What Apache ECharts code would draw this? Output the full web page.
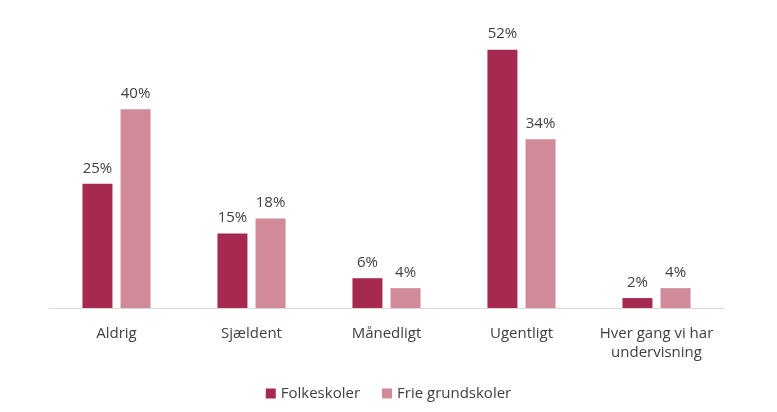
<!DOCTYPE html>
<html><head><meta charset="utf-8">
<script src="https://cdn.jsdelivr.net/npm/echarts@6/dist/echarts.min.js"></script>
<style>html,body{margin:0;padding:0;background:#fff}#c{width:777px;height:412px}</style>
</head><body><div id="c"></div>
<script>
var categories = ["Aldrig", "Sjældent", "Månedligt", "Ugentligt", "Hver gang vi har\nundervisning"];
var folkeskoler = [25, 15, 6, 52, 2];
var frieGrundskoler = [40, 18, 4, 34, 4];
var seriesNames = ["Folkeskoler", "Frie grundskoler"];

var chart = echarts.init(document.getElementById('c'));
var font = "'Open Sans', 'Noto Sans', sans-serif";
var lbl = {show: true, position: 'top', formatter: '{c}%', color: '#404040', fontSize: 15, fontFamily: font, distance: 8};
chart.setOption({
  animation: false,
  textStyle: {fontFamily: font},
  grid: {left: 49, right: 53, top: 10, bottom: 104},
  legend: {
    top: 381, left: 'center', itemWidth: 10, itemHeight: 10, itemGap: 22, icon: 'rect',
    textStyle: {color: '#404040', fontSize: 15, fontFamily: font},
    data: seriesNames
  },
  xAxis: {
    type: 'category', data: categories,
    axisLine: {lineStyle: {color: '#d9d9d9'}},
    axisTick: {show: false},
    axisLabel: {color: '#404040', fontSize: 15, fontFamily: font, margin: 16, lineHeight: 19, interval: 0}
  },
  yAxis: {type: 'value', min: 0, max: 60, show: false, splitLine: {show: false}},
  series: [
    {name: seriesNames[0], type: 'bar', data: folkeskoler, barWidth: 30, barGap: '27%', itemStyle: {color: '#A6294F'}, label: lbl},
    {name: seriesNames[1], type: 'bar', data: frieGrundskoler, barWidth: 30, itemStyle: {color: '#D08A98'}, label: lbl}
  ]
});
</script></body></html>
